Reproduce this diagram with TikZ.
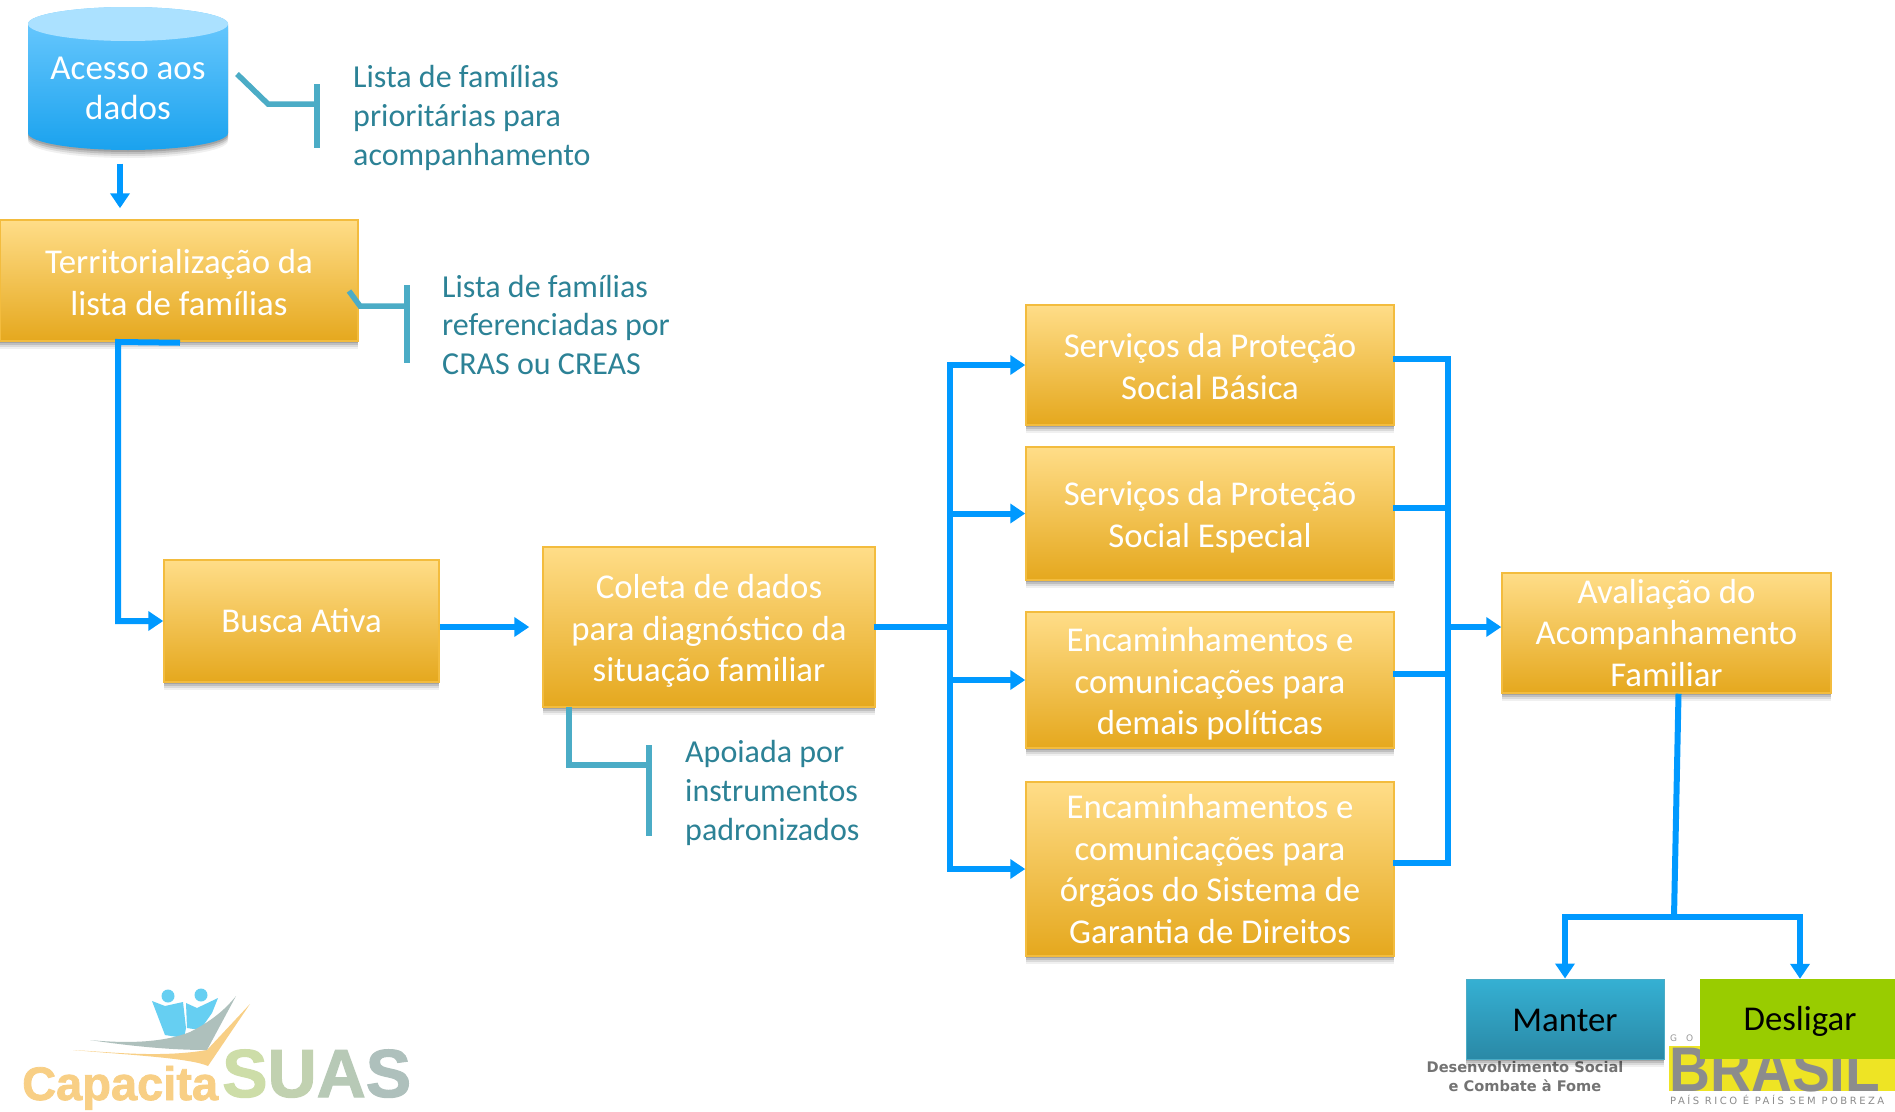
\documentclass[tikz,border=0pt]{standalone}
\usepackage{fontspec}
\setmainfont{Carlito}
\newfontfamily\logofont[FakeBold=1.6]{Liberation Sans Bold}
\newfontfamily\plainlogofont{Liberation Sans}
\newfontfamily\wordfont{DejaVu Sans}
\newfontfamily\spacedfont[LetterSpace=25]{DejaVu Sans}
\usetikzlibrary{arrows.meta,shadows}
\newcommand{\firststrut}[1]{\rule{0pt}{#1pt}}
\definecolor{flowblue}{HTML}{0099FF}
\definecolor{noteteal}{HTML}{4BACC6}
\definecolor{notetext}{HTML}{2C8296}
\definecolor{goldtop}{HTML}{FFDD88}
\definecolor{goldbot}{HTML}{E5A81E}
\definecolor{goldedge}{HTML}{F3BC3E}
\definecolor{cyltop}{HTML}{6FCBFF}
\definecolor{cylbot}{HTML}{1AA2EE}
\definecolor{cylcap}{HTML}{ABE1FF}
\definecolor{logoorange}{HTML}{F8CF85}
\definecolor{logogreen}{HTML}{CDDDA8}
\definecolor{logogrey}{HTML}{AEC0BC}
\definecolor{logoblue}{HTML}{66CFF2}
\definecolor{mantertop}{HTML}{35B0D3}
\definecolor{manterbot}{HTML}{2A89A6}
\definecolor{desligarfill}{HTML}{99CC00}
\tikzset{
  softshadow/.style={
    drop shadow={shadow xshift=0pt,shadow yshift=-2pt,opacity=.14,fill=black},
    drop shadow={shadow xshift=0pt,shadow yshift=-4pt,opacity=.12,fill=black},
    drop shadow={shadow xshift=0pt,shadow yshift=-6pt,opacity=.09,fill=black},
    drop shadow={shadow xshift=0pt,shadow yshift=-8pt,opacity=.06,fill=black}},
  goldbox/.style={rectangle,softshadow,top color=goldtop,bottom color=goldbot,
    draw=goldedge,line width=1.5pt,text=white,align=center,inner xsep=0pt,inner ysep=-25pt,
    font=\fontsize{34.8}{41.5}\selectfont},
  flow/.style={draw=flowblue,line width=6pt},
  flowarrow/.style={flow,-{Triangle[width=19pt,length=15pt]}},
  note/.style={draw=noteteal,line width=5.5pt},
  notelabel/.style={anchor=west,align=left,text=notetext,inner sep=0pt,font=\fontsize{32}{38.7}\selectfont},
  plainlabel/.style={inner sep=0pt,align=center},
}
\begin{document}
\begin{tikzpicture}[x=1pt,y=-1pt]
\useasboundingbox (0,0) rectangle (1895,1111);
\fill[white] (0,0) rectangle (1895,1111);

% data cylinder
\draw[draw=none,top color=cyltop,bottom color=cylbot,softshadow]
  (28,24) -- (28,133) arc[start angle=180,end angle=360,x radius=100,y radius=-17] -- (228,24)
  arc[start angle=0,end angle=180,x radius=100,y radius=-17] -- cycle;
\fill[cylcap] (128,24) ellipse[x radius=100,y radius=17];
\node[plainlabel,text=white,minimum width=200pt,minimum height=143pt,inner ysep=-5pt,font=\fontsize{35}{40}\selectfont] (acesso) at (128,85) {\firststrut{30}Acesso aos\\dados};

% boxes
\node[goldbox,minimum width=358pt,minimum height=121pt] (terr) at (179,280.5) {\firststrut{28}Territorialização da\\lista de famílias};
\node[goldbox,minimum width=275pt,minimum height=122pt] (busca) at (301.5,621) {Busca Ativa};
\node[goldbox,minimum width=332pt,minimum height=160pt] (coleta) at (709,627) {\firststrut{32}Coleta de dados\\para diagnóstico da\\situação familiar};
\node[goldbox,minimum width=368pt,minimum height=120pt] (s1) at (1210,365) {\firststrut{27}Serviços da Proteção\\Social Básica};
\node[goldbox,minimum width=368pt,minimum height=133pt] (s2) at (1210,513.5) {\firststrut{32}Serviços da Proteção\\Social Especial};
\node[goldbox,minimum width=368pt,minimum height=136pt] (s3) at (1210,680) {\firststrut{32}Encaminhamentos e\\comunicações para\\demais políticas};
\node[goldbox,minimum width=368pt,minimum height=174pt] (s4) at (1210,869) {Encaminhamentos e\\comunicações para\\órgãos do Sistema de\\Garantia de Direitos};
\node[goldbox,minimum width=329pt,minimum height=120pt] (aval) at (1666.5,633) {Avaliação do\\Acompanhamento\\Familiar};

% logos behind the outcome boxes
\node[plainlabel,text=black!55,font=\wordfont\bfseries\fontsize{14.6}{19}\selectfont] (desenv) at (1525,1077) {Desenvolvimento Social\\e Combate à Fome};
\node[plainlabel,anchor=west,text=black!40,font=\wordfont\fontsize{9}{9}\selectfont] (gov) at (1670,1038) {G\hspace{9pt}O};
\fill[yellow!85!gray] (1669,1046) rectangle (1895,1091);
\node[plainlabel,anchor=base west,xscale=.9,text=black!45,text depth=0pt,font=\plainlogofont\bfseries\fontsize{63}{63}\selectfont] (brasil) at (1669,1091) {BRASIL};
\node[plainlabel,anchor=west,text=black!45,font=\spacedfont\fontsize{10}{10}\selectfont] (pais) at (1670,1100) {PAÍS RICO É PAÍS SEM POBREZA};

\node[rectangle,softshadow,top color=mantertop,bottom color=manterbot,draw=noteteal,line width=1pt,inner sep=0pt,minimum width=198pt,minimum height=80pt,font=\fontsize{34.8}{40}\selectfont,text=black] (manter) at (1565,1019) {\firststrut{25}Manter};
\node[rectangle,fill=desligarfill,inner sep=0pt,minimum width=200pt,minimum height=80pt,font=\fontsize{34.8}{40}\selectfont,text=black] (desligar) at (1800,1019) {\firststrut{29}Desligar};

% connectors
\coordinate (busL) at (950,627);
\coordinate (busR) at (1448,627);
\coordinate (terrTurn) at (118,342);
\coordinate (split) at (1674,917);
\draw[flowarrow,shorten <=7pt,shorten >=11pt] ([xshift=-8pt]acesso.south) -- ([xshift=-59pt]terr.north);
\draw[flowarrow] ([xshift=1pt,yshift=-1pt]terr.south) -- (terrTurn) |- (busca.west);
\draw[flowarrow,shorten >=13pt] ([yshift=-6pt]busca.east) -- (coleta.west |- busL);
\draw[flow] ([xshift=-2pt]coleta.east) -- (busL);
\draw[flowarrow] (busL) |- (s1.west);
\draw[flowarrow] (busL) |- (s2.west);
\draw[flowarrow] (busL) |- (s3.west);
\draw[flowarrow] (busL) |- (s4.west);
\draw[flow] ([yshift=6pt,xshift=-2pt]s1.east) -| (busR);
\draw[flow] ([yshift=6pt,xshift=-2pt]s2.east) -| (busR);
\draw[flow] ([yshift=6pt,xshift=-2pt]s3.east) -| (busR);
\draw[flow] ([yshift=6pt,xshift=-2pt]s4.east) -| (busR);
\draw[flowarrow] (busR) -- (aval.west |- busR);
\draw[flow] ([xshift=12pt]aval.south) -- (split);
\draw[flowarrow] (split) -| (manter.north);
\draw[flowarrow] (split) -| (desligar.north);

% note brackets
\node[notelabel] (n1) at (353,118) {Lista de famílias\\prioritárias para\\acompanhamento};
\node[notelabel] (n2) at (442,325) {Lista de famílias\\referenciadas por\\CRAS ou CREAS};
\node[notelabel] (n3) at (685,793) {Apoiada por\\instrumentos\\padronizados};
\coordinate (b1a) at (237,74); \coordinate (b1b) at (268,104);
\coordinate (b1c) at (317,104); \coordinate (b1t) at (317,84); \coordinate (b1u) at (317,148);
\draw[note] (b1a) -- (b1b) -- (b1c); \draw[note] (b1t) -- (b1u);
\coordinate (b2a) at (349,291); \coordinate (b2b) at (360,306);
\coordinate (b2c) at (407,306); \coordinate (b2t) at (407,285); \coordinate (b2u) at (407,363);
\draw[note] (b2a) -- (b2b) -- (b2c); \draw[note] (b2t) -- (b2u);
\coordinate (b3a) at (569,707); \coordinate (b3b) at (569,765);
\coordinate (b3c) at (649,765); \coordinate (b3t) at (649,745); \coordinate (b3u) at (649,836);
\draw[note] (b3a) -- (b3b) -- (b3c); \draw[note] (b3t) -- (b3u);

% CapacitaSUAS logo
\fill[logoorange] (73,1050) .. controls (130,1055) and (190,1058) .. (208,1066) -- (250,1004) -- (207,1050) .. controls (160,1058) and (110,1052) .. (73,1050) -- cycle;
\fill[logoblue] (152,1001) -- (165,1006) -- (183,1002) -- (186,1028) -- (184,1038) -- (165,1035) -- cycle;
\fill[logoblue] (186,1003) -- (197,1008) -- (218,998) -- (212,1013) -- (200,1030) -- (187,1028) -- cycle;
\fill[logoblue] (168,996) circle[radius=6.5];
\fill[logoblue] (201,995) circle[radius=6.5];
\fill[logogrey] (90,1040) .. controls (130,1044) and (165,1042) .. (190,1032) .. controls (210,1022) and (225,1010) .. (236,996) -- (207,1050) .. controls (170,1050) and (130,1046) .. (90,1040) -- cycle;
\node[plainlabel,anchor=base west,text=logoorange,text depth=0pt,font=\logofont\fontsize{47}{47}\selectfont] (capacita) at (22,1100) {Capacita};
\node[plainlabel,anchor=base west,text=logogreen,text depth=0pt,font=\logofont\fontsize{68}{68}\selectfont] (suas) at (222,1097) {S\textcolor{logogreen!60!logogrey}{U}\textcolor{logogreen!30!logogrey}{A}\textcolor{logogrey}{S}};
\end{tikzpicture}
\end{document}
